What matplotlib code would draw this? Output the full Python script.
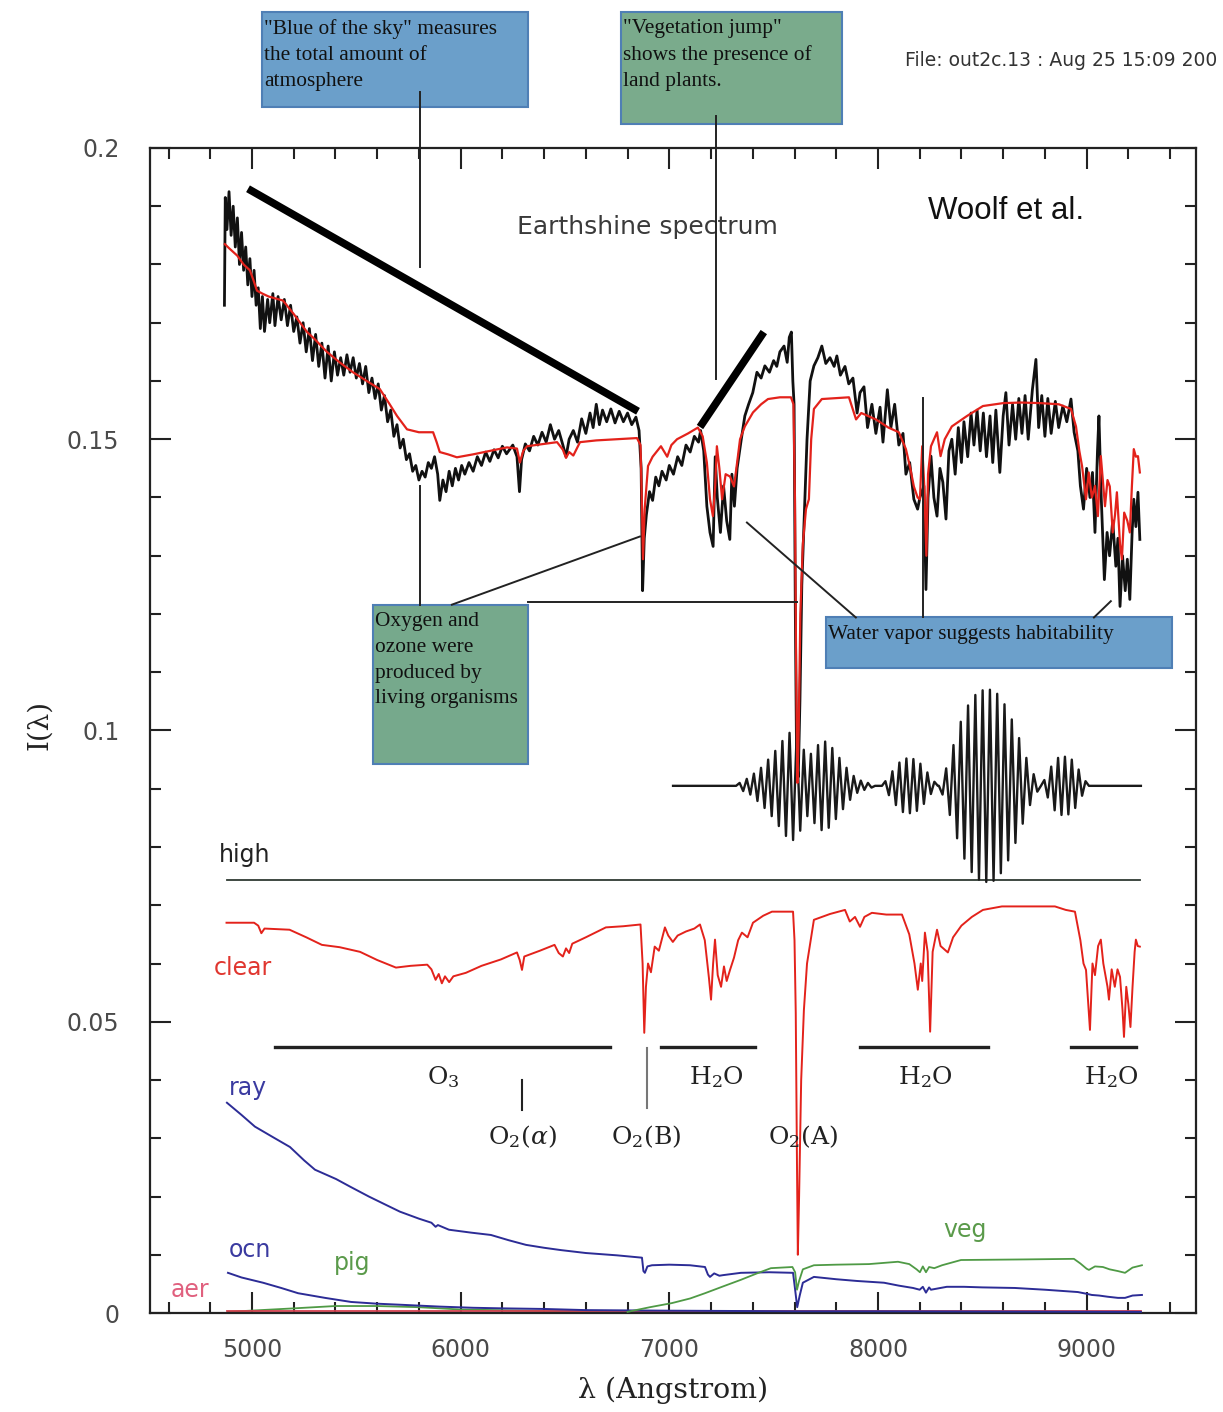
import numpy as np
import matplotlib
matplotlib.use("Agg")
import matplotlib.pyplot as plt
from matplotlib.patches import Rectangle
from matplotlib.ticker import MultipleLocator

plt.rcParams["mathtext.fontset"] = "dejavuserif"

# ---- observed earthshine spectrum (black) ----
obs_wl = [4868, 4872, 4880, 4890, 4900, 4910, 4920, 4930, 4940, 4950, 4960, 4970, 4980, 4990,
          5000, 5010, 5020, 5030, 5040, 5050, 5060, 5075, 5085, 5100, 5110, 5125, 5140, 5155,
          5170, 5185, 5200, 5215, 5230, 5245, 5260, 5275, 5290, 5305, 5320, 5335, 5350, 5365,
          5380, 5395, 5410, 5425, 5440, 5455, 5470, 5485, 5500, 5515, 5530, 5545, 5560, 5575,
          5590, 5605, 5620, 5635, 5650, 5665, 5680, 5695, 5710, 5725, 5740, 5755, 5770, 5785,
          5800, 5815, 5830, 5845, 5860, 5875, 5890, 5900, 5915, 5930, 5945, 5960, 5975, 5990,
          6005, 6020, 6040, 6060, 6080, 6100, 6120, 6140, 6160, 6180, 6200, 6220, 6250, 6270,
          6282, 6292, 6310, 6330, 6350, 6370, 6390, 6410, 6430, 6450, 6470, 6490, 6505, 6520,
          6540, 6560, 6580, 6600, 6620, 6635, 6650, 6665, 6680, 6700, 6720, 6740, 6760, 6780,
          6800, 6820, 6840, 6855, 6865, 6872, 6880, 6890, 6905, 6920, 6935, 6950, 6965, 6985,
          7000, 7020, 7040, 7060, 7080, 7100, 7120, 7140, 7150, 7165, 7180, 7195, 7210, 7220,
          7230, 7245, 7260, 7275, 7290, 7300, 7312, 7325, 7345, 7362, 7380, 7400, 7420, 7440,
          7458, 7480, 7500, 7515, 7530, 7550, 7565, 7575, 7585, 7592, 7598, 7604, 7610, 7618,
          7626, 7635, 7648, 7660, 7675, 7693, 7712, 7731, 7750, 7770, 7790, 7803, 7820, 7842,
          7860, 7880, 7900, 7914, 7933, 7950, 7971, 7990, 8010, 8024, 8045, 8062, 8080, 8100,
          8120, 8134, 8152, 8172, 8190, 8201, 8220, 8230, 8240, 8254, 8268, 8283, 8297, 8311,
          8326, 8340, 8354, 8370, 8385, 8400, 8412, 8430, 8446, 8460, 8475, 8490, 8505, 8520,
          8537, 8550, 8565, 8584, 8600, 8613, 8628, 8645, 8660, 8675, 8690, 8705, 8720, 8740,
          8757, 8770, 8785, 8800, 8814, 8830, 8850, 8866, 8886, 8905, 8925, 8940, 8958, 8970,
          8985, 9000, 9016, 9028, 9040, 9052, 9059, 9070, 9085, 9098, 9110, 9125, 9140, 9150,
          9160, 9172, 9185, 9195, 9207, 9218, 9226, 9236, 9246, 9255]
obs_I = [0.1730, 0.1915, 0.1860, 0.1925, 0.1850, 0.1900, 0.1830, 0.1880, 0.1800, 0.1855, 0.1790,
         0.1830, 0.1765, 0.1810, 0.1745, 0.1790, 0.1730, 0.1760, 0.1690, 0.1745, 0.1685, 0.1740,
         0.1700, 0.1750, 0.1695, 0.1745, 0.1705, 0.1740, 0.1695, 0.1730, 0.1685, 0.1710, 0.1665,
         0.1700, 0.1650, 0.1690, 0.1635, 0.1680, 0.1625, 0.1665, 0.1605, 0.1660, 0.1600, 0.1650,
         0.1610, 0.1640, 0.1610, 0.1645, 0.1615, 0.1640, 0.1605, 0.1630, 0.1595, 0.1625, 0.1580,
         0.1605, 0.1570, 0.1595, 0.1550, 0.1575, 0.1530, 0.1550, 0.1505, 0.1525, 0.1485, 0.1500,
         0.1465, 0.1475, 0.1445, 0.1455, 0.1430, 0.1445, 0.1435, 0.1460, 0.1450, 0.1470, 0.1440,
         0.1395, 0.1430, 0.1410, 0.1445, 0.1420, 0.1450, 0.1430, 0.1455, 0.1440, 0.1460, 0.1445,
         0.1470, 0.1455, 0.1478, 0.1462, 0.1482, 0.1468, 0.1488, 0.1475, 0.1490, 0.1470, 0.1410,
         0.1465, 0.1492, 0.1480, 0.1505, 0.1490, 0.1512, 0.1495, 0.1525, 0.1500, 0.1515, 0.1490,
         0.1470, 0.1500, 0.1515, 0.1495, 0.1535, 0.1510, 0.1545, 0.1520, 0.1560, 0.1525, 0.1550,
         0.1530, 0.1552, 0.1528, 0.1548, 0.1530, 0.1545, 0.1525, 0.1538, 0.1515, 0.1450, 0.1240,
         0.1330, 0.1370, 0.1410, 0.1395, 0.1435, 0.1420, 0.1445, 0.1430, 0.1455, 0.1440, 0.1470,
         0.1455, 0.1490, 0.1478, 0.1505, 0.1495, 0.1515, 0.1480, 0.1385, 0.1340, 0.1316, 0.1470,
         0.1400, 0.1340, 0.1420, 0.1360, 0.1328, 0.1440, 0.1385, 0.1450, 0.1500, 0.1540, 0.1560,
         0.1580, 0.1615, 0.1605, 0.1626, 0.1615, 0.1635, 0.1625, 0.1650, 0.1660, 0.1632, 0.1675,
         0.1684, 0.1600, 0.1560, 0.1200, 0.0950, 0.0920, 0.1050, 0.1250, 0.1380, 0.1500, 0.1600,
         0.1626, 0.1640, 0.1660, 0.1630, 0.1640, 0.1625, 0.1643, 0.1610, 0.1625, 0.1595, 0.1605,
         0.1545, 0.1580, 0.1590, 0.1520, 0.1560, 0.1510, 0.1555, 0.1495, 0.1585, 0.1520, 0.1560,
         0.1490, 0.1510, 0.1440, 0.1460, 0.1397, 0.1380, 0.1400, 0.1420, 0.1242, 0.1400, 0.1471,
         0.1400, 0.1368, 0.1450, 0.1426, 0.1363, 0.1480, 0.1500, 0.1440, 0.1520, 0.1460, 0.1530,
         0.1470, 0.1545, 0.1490, 0.1550, 0.1480, 0.1545, 0.1470, 0.1540, 0.1460, 0.1550, 0.1443,
         0.1540, 0.1580, 0.1490, 0.1560, 0.1500, 0.1570, 0.1510, 0.1575, 0.1500, 0.1585, 0.1637,
         0.1520, 0.1575, 0.1505, 0.1570, 0.1510, 0.1565, 0.1520, 0.1557, 0.1530, 0.1569, 0.1512,
         0.1480, 0.1420, 0.1380, 0.1450, 0.1400, 0.1443, 0.1340, 0.1480, 0.1540, 0.1400, 0.1259,
         0.1340, 0.1300, 0.1360, 0.1282, 0.1330, 0.1213, 0.1300, 0.1240, 0.1294, 0.1225, 0.1340,
         0.1397, 0.1350, 0.1409, 0.1328]

# ---- model fit (red, top) ----
model_wl = [4870, 4890, 4930, 4960, 4990, 5010, 5024, 5050, 5080, 5110, 5149, 5200, 5264, 5300,
            5359, 5420, 5484, 5550, 5613, 5660, 5695, 5743, 5800, 5868, 5885, 5900, 5940, 5982,
            6059, 6140, 6222, 6270, 6284, 6300, 6318, 6400, 6462, 6490, 6505, 6520, 6540, 6572,
            6650, 6750, 6845, 6862, 6868, 6874, 6882, 6898, 6920, 6960, 6990, 7010, 7037, 7090,
            7137, 7160, 7180, 7195, 7209, 7220, 7228, 7240, 7253, 7270, 7291, 7310, 7325, 7339,
            7362, 7401, 7440, 7473, 7530, 7583, 7595, 7602, 7608, 7614, 7620, 7628, 7640, 7655,
            7669, 7680, 7693, 7731, 7861, 7895, 7920, 7952, 7990, 8050, 8100, 8134, 8155, 8172,
            8190, 8201, 8212, 8222, 8232, 8240, 8254, 8283, 8300, 8320, 8354, 8427, 8503, 8600,
            8685, 8780, 8867, 8925, 8949, 8965, 8978, 8997, 9010, 9025, 9040, 9054, 9068, 9088,
            9100, 9111, 9125, 9136, 9145, 9160, 9169, 9180, 9195, 9207, 9217, 9226, 9236, 9246,
            9255]
model_I = [0.1835, 0.1828, 0.1815, 0.1800, 0.1790, 0.1770, 0.1755, 0.1750, 0.1745, 0.1742, 0.1738,
           0.1715, 0.1684, 0.1672, 0.1650, 0.1632, 0.1615, 0.1600, 0.1586, 0.1560, 0.1540, 0.1517,
           0.1512, 0.1512, 0.1495, 0.1478, 0.1474, 0.1469, 0.1474, 0.1480, 0.1486, 0.1484, 0.1460,
           0.1480, 0.1488, 0.1492, 0.1495, 0.1482, 0.1468, 0.1478, 0.1472, 0.1495, 0.1498, 0.1500,
           0.1502, 0.1490, 0.1400, 0.1294, 0.1380, 0.1454, 0.1470, 0.1488, 0.1470, 0.1490, 0.1500,
           0.1510, 0.1520, 0.1505, 0.1460, 0.1397, 0.1368, 0.1420, 0.1488, 0.1450, 0.1397, 0.1440,
           0.1436, 0.1419, 0.1460, 0.1500, 0.1522, 0.1546, 0.1560, 0.1569, 0.1572, 0.1572, 0.1560,
           0.1400, 0.1100, 0.0910, 0.1000, 0.1200, 0.1320, 0.1380, 0.1397, 0.1500, 0.1552, 0.1569,
           0.1572, 0.1534, 0.1545, 0.1540, 0.1534, 0.1520, 0.1512, 0.1483, 0.1450, 0.1419, 0.1400,
           0.1397, 0.1488, 0.1419, 0.1300, 0.1440, 0.1488, 0.1512, 0.1471, 0.1500, 0.1522, 0.1540,
           0.1557, 0.1562, 0.1563, 0.1562, 0.1560, 0.1552, 0.1522, 0.1480, 0.1454, 0.1397, 0.1443,
           0.1400, 0.1420, 0.1368, 0.1471, 0.1385, 0.1430, 0.1419, 0.1340, 0.1370, 0.1409, 0.1320,
           0.1294, 0.1374, 0.1360, 0.1340, 0.1420, 0.1483, 0.1470, 0.1471, 0.1443]

# ---- clear-sky component ----
clear_wl = [4878, 5010, 5030, 5045, 5060, 5180, 5260, 5335, 5420, 5518, 5600, 5690, 5760, 5840,
            5860, 5880, 5895, 5910, 5925, 5945, 5965, 6025, 6100, 6193, 6270, 6283, 6294, 6305,
            6380, 6450, 6470, 6490, 6505, 6520, 6535, 6600, 6696, 6780, 6862, 6872, 6880, 6888,
            6898, 6912, 6930, 6950, 6979, 6995, 7017, 7040, 7080, 7120, 7147, 7170, 7190, 7200,
            7210, 7219, 7232, 7248, 7262, 7275, 7291, 7310, 7330, 7348, 7375, 7401, 7450, 7492,
            7593, 7600, 7606, 7612, 7616, 7622, 7632, 7645, 7660, 7693, 7770, 7842, 7865, 7890,
            7914, 7935, 7971, 8040, 8115, 8150, 8175, 8191, 8205, 8212, 8225, 8238, 8250, 8262,
            8283, 8300, 8335, 8360, 8400, 8450, 8503, 8594, 8848, 8900, 8944, 8970, 8985, 8997,
            9008, 9016, 9028, 9040, 9055, 9068, 9080, 9090, 9100, 9107, 9120, 9135, 9148, 9160,
            9172, 9179, 9190, 9200, 9210, 9220, 9230, 9236, 9245, 9255]
clear_I = [0.0670, 0.0670, 0.0665, 0.0652, 0.0660, 0.0658, 0.0645, 0.0632, 0.0628, 0.0620, 0.0606,
           0.0593, 0.0596, 0.0598, 0.0590, 0.0572, 0.0582, 0.0566, 0.0578, 0.0568, 0.0578, 0.0584,
           0.0596, 0.0607, 0.0619, 0.0606, 0.0589, 0.0612, 0.0622, 0.0632, 0.0618, 0.0612, 0.0626,
           0.0618, 0.0634, 0.0645, 0.0662, 0.0664, 0.0667, 0.0600, 0.0481, 0.0560, 0.0600, 0.0585,
           0.0629, 0.0622, 0.0662, 0.0648, 0.0637, 0.0648, 0.0655, 0.0660, 0.0667, 0.0640, 0.0575,
           0.0538, 0.0600, 0.0641, 0.0580, 0.0560, 0.0595, 0.0570, 0.0589, 0.0610, 0.0640, 0.0653,
           0.0645, 0.0670, 0.0682, 0.0689, 0.0689, 0.0640, 0.0515, 0.0250, 0.0100, 0.0200, 0.0400,
           0.0520, 0.0600, 0.0675, 0.0685, 0.0692, 0.0672, 0.0680, 0.0663, 0.0680, 0.0687, 0.0684,
           0.0684, 0.0650, 0.0600, 0.0555, 0.0600, 0.0570, 0.0653, 0.0620, 0.0483, 0.0620, 0.0658,
           0.0630, 0.0619, 0.0645, 0.0665, 0.0680, 0.0692, 0.0698, 0.0698, 0.0692, 0.0689, 0.0640,
           0.0600, 0.0589, 0.0530, 0.0486, 0.0600, 0.0580, 0.0630, 0.0641, 0.0600, 0.0580, 0.0560,
           0.0538, 0.0590, 0.0560, 0.0590, 0.0577, 0.0520, 0.0474, 0.0560, 0.0530, 0.0491, 0.0560,
           0.0620, 0.0641, 0.0630, 0.0629]

# ---- Rayleigh, ocean, pigment, vegetation, aerosol ----
ray_wl = [4880, 4950, 5014, 5100, 5182, 5250, 5302, 5403, 5470, 5560, 5640, 5709, 5800, 5860,
          5880, 5891, 5944, 6050, 6145, 6230, 6313, 6400, 6481, 6600, 6750, 6869, 6876, 6883,
          6895, 6917, 7000, 7099, 7171, 7185, 7195, 7215, 7240, 7257, 7343, 7480, 7593, 7603,
          7613, 7625, 7640, 7693, 7800, 7900, 8029, 8100, 8168, 8200, 8215, 8230, 8245, 8254,
          8330, 8412, 8500, 8656, 8800, 8958, 9000, 9025, 9060, 9100, 9150, 9184, 9220, 9265]
ray_I = [0.0361, 0.0340, 0.0320, 0.0302, 0.0285, 0.0262, 0.0246, 0.0230, 0.0217, 0.0200, 0.0186,
         0.0174, 0.0162, 0.0155, 0.0148, 0.0151, 0.0143, 0.0138, 0.0134, 0.0125, 0.0117, 0.0112,
         0.0108, 0.0103, 0.0099, 0.0095, 0.0072, 0.0069, 0.0080, 0.0082, 0.0083, 0.0082, 0.0079,
         0.0066, 0.0062, 0.0068, 0.0064, 0.0065, 0.0069, 0.0070, 0.0069, 0.0040, 0.0010, 0.0030,
         0.0052, 0.0062, 0.0058, 0.0055, 0.0052, 0.0047, 0.0043, 0.0040, 0.0045, 0.0035, 0.0044,
         0.0040, 0.0045, 0.0045, 0.0044, 0.0043, 0.0040, 0.0036, 0.0033, 0.0031, 0.0030, 0.0028,
         0.0026, 0.0026, 0.0030, 0.0031]

ocn_wl = [4885, 4950, 5053, 5140, 5221, 5350, 5475, 5600, 5724, 5900, 6059, 6200, 6395, 6600,
          7000, 7600, 8000, 9260]
ocn_I = [0.0069, 0.0061, 0.0052, 0.0043, 0.0034, 0.0026, 0.0019, 0.0016, 0.0014, 0.0011, 0.0009,
         0.0008, 0.0007, 0.0005, 0.0004, 0.0003, 0.0003, 0.0002]

pig_wl = [4885, 5200, 5400, 5600, 5800, 6000, 6500, 7000, 8100, 9260]
pig_I = [0.0002, 0.0008, 0.0012, 0.0012, 0.0010, 0.0006, 0.0003, 0.0001, 0.0001, 0.0001]

veg_wl = [6800, 6907, 7012, 7100, 7171, 7260, 7343, 7420, 7487, 7590, 7603, 7612, 7622, 7640,
          7693, 7800, 7957, 8096, 8150, 8185, 8201, 8215, 8230, 8245, 8270, 8307, 8398, 8700,
          8939, 8970, 9000, 9011, 9040, 9078, 9110, 9150, 9184, 9220, 9265]
veg_I = [0.0002, 0.0010, 0.0017, 0.0025, 0.0034, 0.0046, 0.0057, 0.0068, 0.0077, 0.0079, 0.0070,
         0.0040, 0.0055, 0.0075, 0.0082, 0.0083, 0.0084, 0.0088, 0.0084, 0.0075, 0.0070, 0.0080,
         0.0070, 0.0079, 0.0077, 0.0082, 0.0091, 0.0092, 0.0093, 0.0085, 0.0076, 0.0074, 0.0080,
         0.0079, 0.0075, 0.0072, 0.0069, 0.0078, 0.0082]

aer_wl = [4880, 6000, 7000, 8000, 9260]
aer_I = [0.0003, 0.0003, 0.0003, 0.0003, 0.0003]

high_wl = [4880, 9255]
high_I = [0.0744, 0.0744]

# ---- schematic wave packet ----
wave_base = 0.0905
wave_range = (7018, 9260)
packet_spans = [(7320, 7986), (8019, 8287), (8292, 8781), (8781, 9011)]
packet_amps = [
    [0.0005, 0.0009, 0.0012, 0.0015, 0.0021, 0.0026, 0.0031, 0.0038, 0.0045, 0.0052, 0.0060,
     0.0069, 0.0077, 0.0086, 0.0091, 0.0093, 0.0089, 0.0077, 0.0062, 0.0052, 0.0055, 0.0064,
     0.0070, 0.0076, 0.0076, 0.0072, 0.0065, 0.0057, 0.0048, 0.0040, 0.0031, 0.0024, 0.0017,
     0.0012, 0.0009, 0.0007, 0.0005, 0.0003],
    [0.0008, 0.0016, 0.0025, 0.0033, 0.0040, 0.0045, 0.0047, 0.0047, 0.0046, 0.0043, 0.0038,
     0.0031, 0.0023, 0.0014, 0.0007],
    [0.0015, 0.0030, 0.0050, 0.0070, 0.0090, 0.0110, 0.0125, 0.0138, 0.0148, 0.0156, 0.0161,
     0.0164, 0.0165, 0.0165, 0.0163, 0.0158, 0.0150, 0.0140, 0.0128, 0.0114, 0.0098, 0.0082,
     0.0065, 0.0048, 0.0033, 0.0020, 0.0010],
    [0.0010, 0.0020, 0.0033, 0.0042, 0.0048, 0.0050, 0.0050, 0.0049, 0.0045, 0.0038, 0.0028,
     0.0017, 0.0008],
]

# ---- absorption band markers ----
band_bars = [(5110, 6716), (6960, 7410), (7914, 8527), (8925, 9236)]
band_bar_I = 0.0456
band_labels = [r"O$_3$", r"H$_2$O", r"H$_2$O", r"H$_2$O"]
band_label_wl = [5915, 7224, 8225, 9121]
band_label_I = 0.0405
line_labels = [r"O$_2$($\alpha$)", r"O$_2$(B)", r"O$_2$(A)"]
line_label_wl = [6294, 6888, 7640]
line_label_I = 0.0302


def wave_packet():
    xs, ys = [wave_range[0]], [wave_base]
    sign = 1
    for (w0, w1), amps in zip(packet_spans, packet_amps):
        pos = np.linspace(w0, w1, len(amps) + 2)
        xs.append(w0)
        ys.append(wave_base)
        for p, a in zip(pos[1:-1], amps):
            xs.append(p)
            ys.append(wave_base + sign * a)
            sign = -sign
        xs.append(w1)
        ys.append(wave_base)
    xs.append(wave_range[1])
    ys.append(wave_base)
    return xs, ys


fig = plt.figure(figsize=(12.23, 14.12), dpi=100)
ax = fig.add_axes([0.1226, 0.0701, 0.8553, 0.8251])
ax.set_xlim(4511, 9524)
ax.set_ylim(0, 0.2)

# spectra
ax.plot(obs_wl, obs_I, color="#111111", lw=2.0, zorder=3)
ax.plot(model_wl, model_I, color="#e3221b", lw=1.6, zorder=4)
ax.plot(high_wl, high_I, color="#2f3a33", lw=1.3, zorder=3)
ax.plot(clear_wl, clear_I, color="#e3221b", lw=1.4, zorder=3)
ax.plot(ray_wl, ray_I, color="#2c2c96", lw=1.4, zorder=3)
ax.plot(ocn_wl, ocn_I, color="#2c2c96", lw=1.4, zorder=3)
ax.plot(pig_wl, pig_I, color="#4f9a45", lw=1.3, zorder=2)
ax.plot(veg_wl, veg_I, color="#4f9a45", lw=1.3, zorder=3)
ax.plot(aer_wl, aer_I, color="#d8404f", lw=1.3, zorder=2)

wx, wy = wave_packet()
ax.plot(wx, wy, color="#1a1a1a", lw=1.7, zorder=3)

# band markers
for (b0, b1) in band_bars:
    ax.plot([b0, b1], [band_bar_I, band_bar_I], color="#222222", lw=2.4, zorder=3)
ax.plot([6294, 6294], [0.0400, 0.0349], color="#222222", lw=1.5)
ax.plot([6893, 6893], [0.0455, 0.0352], color="#777777", lw=1.5)
for lab, w in zip(band_labels, band_label_wl):
    ax.text(w, band_label_I, lab, ha="center", va="center", fontsize=18,
            family="DejaVu Serif", color="#222222")
for lab, w in zip(line_labels, line_label_wl):
    ax.text(w, line_label_I, lab, ha="center", va="center", fontsize=18,
            family="DejaVu Serif", color="#222222")

# component labels
comp_labels = [("high", 4966, 0.0787, "#222222"), ("clear", 4957, 0.0593, "#e0362f"),
               ("ray", 4981, 0.0387, "#3a3aa0"), ("ocn", 4990, 0.0108, "#3a3aa0"),
               ("pig", 5479, 0.0086, "#5a9a4a"), ("aer", 4703, 0.0040, "#e0607e"),
               ("veg", 8417, 0.0143, "#5a9a4a")]
for lab, w, i, c in comp_labels:
    ax.text(w, i, lab, ha="center", va="center", fontsize=17, color=c)

ax.text(6893, 0.1864, "Earthshine spectrum", ha="center", va="center", fontsize=18,
        color="#3a3a3a")
ax.text(8613, 0.1892, "Woolf et al.", ha="center", va="center", fontsize=22.5,
        family="Liberation Sans", color="#111111")
fig.text(0.740, 0.9575, "File: out2c.13 : Aug 25 15:09 200", ha="left", va="center",
         fontsize=13.5, color="#333333")

# thick slope indicators
ax.plot([4981, 6850], [0.1930, 0.1548], color="black", lw=5.5, solid_capstyle="butt", zorder=5)
ax.plot([7147, 7453], [0.1521, 0.1684], color="black", lw=5.5, solid_capstyle="butt", zorder=5)

# annotation boxes
boxes = [
    (5048, 6322, 0.2070, 0.2234, "#6b9fca",
     '"Blue of the sky" measures\nthe total amount of\natmosphere'),
    (6768, 7827, 0.2041, 0.2234, "#7aab8c",
     '"Vegetation jump"\nshows the presence of\nland plants.'),
    (5580, 6322, 0.0942, 0.1216, "#76a98c",
     "Oxygen and\nozone were\nproduced by\nliving organisms"),
    (7750, 9408, 0.1108, 0.1194, "#6b9fca",
     "Water vapor suggests habitability"),
]
for x0, x1, y0, y1, fc, txt in boxes:
    ax.add_patch(Rectangle((x0, y0), x1 - x0, y1 - y0, facecolor=fc, edgecolor="#4f7fb5",
                           lw=1.5, clip_on=False, zorder=6))
    ax.text(x0 + 10, y1 - 0.0013, txt, ha="left", va="top", fontsize=15.4,
            family="Liberation Serif", color="#111111", linespacing=1.48,
            clip_on=False, zorder=7)

# pointer lines
pointers = [
    ([5805, 5805], [0.2096, 0.1796]),
    ([7224, 7224], [0.2055, 0.1603]),
    ([5805, 5805], [0.1420, 0.1216]),
    ([5958, 6859], [0.1216, 0.1333]),
    ([6322, 7612], [0.1220, 0.1220]),
    ([7372, 7894], [0.1357, 0.1194]),
    ([8215, 8215], [0.1570, 0.1194]),
    ([9116, 9035], [0.1222, 0.1194]),
]
for px, py in pointers:
    ax.plot(px, py, color="#222222", lw=1.4, clip_on=False, zorder=8)

# axes styling
ax.set_xticks([5000, 6000, 7000, 8000, 9000])
ax.xaxis.set_minor_locator(MultipleLocator(200))
ax.set_yticks([0, 0.05, 0.1, 0.15, 0.2])
ax.set_yticklabels(["0", "0.05", "0.1", "0.15", "0.2"])
ax.yaxis.set_minor_locator(MultipleLocator(0.01))
ax.tick_params(which="both", direction="in", top=True, right=True, width=1.5,
               color="#222222", labelsize=17, labelcolor="#4a4a4a")
ax.tick_params(which="major", length=15)
ax.tick_params(which="minor", length=8)
ax.tick_params(axis="x", pad=18)
ax.tick_params(axis="y", pad=22)
for s in ax.spines.values():
    s.set_linewidth(1.6)
    s.set_color("#222222")

ax.text(0.5, -0.066, "λ (Angstrom)", transform=ax.transAxes, ha="center", va="center",
        fontsize=20.5, family="DejaVu Serif", color="#222222")
ax.text(-0.105, 0.505, "I(λ)", transform=ax.transAxes, ha="center", va="center",
        rotation=90, fontsize=20, family="DejaVu Serif", color="#222222")

fig.savefig("out.png", dpi=100, facecolor="white")
